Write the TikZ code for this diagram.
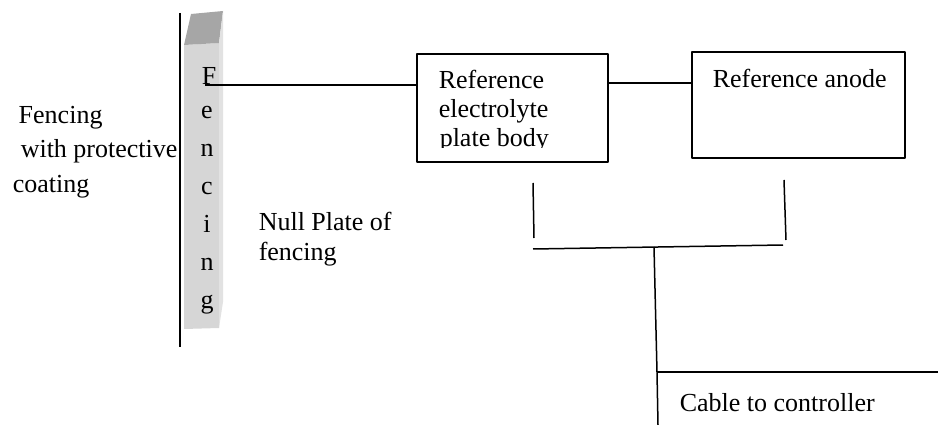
\documentclass[tikz,border=0pt]{standalone}
\usepackage{fontspec}
\setmainfont{Liberation Serif}
\usepackage{tikz}
\definecolor{fenfront}{HTML}{D6D6D6}
\definecolor{fentop}{HTML}{A6A6A6}
\definecolor{fenside}{HTML}{E2E2E2}
\tikzset{lb/.style={font=\fontsize{26}{29}\selectfont, inner sep=0pt, anchor=base west}}
\tikzset{bx/.style={draw, line width=1.6pt, inner sep=0pt}}

\begin{document}
\begin{tikzpicture}[x=1pt, y=-1pt, line width=1.5pt, line join=round]
\useasboundingbox (0,0) rectangle (938,425);
% fence post
\fill[fenfront](184,45)--(219,43)--(219,328)--(184,329)--cycle;
\fill[fentop](184,45)--(191,14)--(223,11)--(219,43)--cycle;
\fill[fenside](219,43)--(223,11)--(223,302)--(219,328)--cycle;
\draw (180,13) -- (180,347);
\node[lb, anchor=base] (ltr0) at (209,85) {F};
\foreach \ch [count=\i] in {e,n,c,i,n,g}
  \node[lb, anchor=base] (ltr\i) at (207,{119+37.8*(\i-1)}) {\ch};
\node[lb] (lf1) at (18,124) {Fencing};
\node[lb] (lf2) at (20,158) {with protective};
\node[lb] (lf3) at (12,193) {coating};
\node[lb] (null1) at (258,230) {Null Plate of};
\node[lb] (null2) at (258,261) {fencing};
% boxes
\node[bx, minimum width=191pt, minimum height=108pt] (refbody) at (512.5,108) {};
\node[bx, minimum width=213pt, minimum height=106pt] (anode) at (798.5,105) {};
\begin{scope}
  \clip (417,54) rectangle (608,148);
  \node[lb] (rb1) at (438,89) {Reference};
  \node[lb] (rb2) at (438,118) {electrolyte};
  \node[lb] (rb3) at (439,147) {plate body};
\end{scope}
\node[lb] (anodetxt) at (712,88) {Reference anode};
% wires
\coordinate (fstart) at (205,85);
\coordinate (mid) at (650,83);
\draw (fstart) -- (fstart -| refbody.west);
\draw (mid -| refbody.east) -- (mid -| anode.west);
\coordinate (bl1) at (533,183);
\coordinate (bl2) at (534,238);
\coordinate (br1) at (784,180);
\coordinate (br2) at (786,240);
\coordinate (hl) at (533,249);
\coordinate (hr) at (783,245);
\coordinate (tj) at (654,247);
\coordinate (ck) at (657,372);
\coordinate (cb) at (658,425);
\coordinate (ce) at (938,372);
\draw (bl1) -- (bl2);
\draw (br1) -- (br2);
\draw (hl) -- (hr);
\draw (tj) -- (ck) -- (cb);
\draw (ck) -- (ce);
\node[lb] (cabletxt) at (679,411) {Cable to controller};
\end{tikzpicture}
\end{document}
